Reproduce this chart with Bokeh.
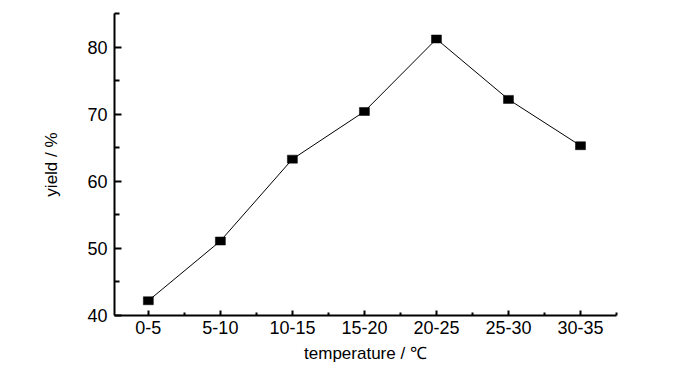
from bokeh.plotting import figure
from bokeh.models import Range1d, FixedTicker
from bokeh.embed import file_html
from bokeh.resources import INLINE

categories = ["0-5", "5-10", "10-15", "15-20", "20-25", "25-30", "30-35"]
yield_pct = [42.2, 51.1, 63.3, 70.4, 81.2, 72.2, 65.3]
y_ticks = [40, 50, 60, 70, 80]
y_minor = [45, 55, 65, 75, 85]

FONT = "Liberation Sans"

xs = list(range(len(categories)))

p = figure(width=684, height=365, output_backend="svg", toolbar_location=None,
           x_range=Range1d(-0.47, 6.5), y_range=Range1d(40, 85),
           min_border_left=114, min_border_right=68, min_border_top=13, min_border_bottom=50)
p.outline_line_color = None
p.xgrid.visible = False
p.ygrid.visible = False
p.background_fill_color = "white"
p.border_fill_color = "white"

p.line(xs, yield_pct, line_color="black", line_width=1)
p.rect(xs, yield_pct, width=10, height=8, width_units="screen", height_units="screen",
       fill_color="black", line_color="black", line_width=0.5)

xa = p.xaxis[0]
xa.ticker = FixedTicker(ticks=xs, minor_ticks=[x + 0.5 for x in xs])
xa.major_label_overrides = {i: c for i, c in enumerate(categories)}
xa.axis_label = "temperature / ℃"

ya = p.yaxis[0]
ya.ticker = FixedTicker(ticks=y_ticks, minor_ticks=y_minor)
ya.axis_label = "yield / %"

for ax in (xa, ya):
    ax.axis_line_color = "black"
    ax.axis_line_width = 2
    ax.major_tick_line_color = "black"
    ax.minor_tick_line_color = "black"
    ax.major_tick_line_width = 2
    ax.minor_tick_line_width = 2
    ax.major_tick_out = 0
    ax.minor_tick_out = 0
    ax.major_label_text_font = FONT
    ax.major_label_text_font_size = "18px"
    ax.major_label_text_color = "black"
    ax.axis_label_text_font = FONT
    ax.axis_label_text_font_size = "17px"
    ax.axis_label_text_font_style = "normal"
    ax.axis_label_text_color = "black"

xa.major_tick_in = 5
xa.minor_tick_in = 3
ya.major_tick_in = 7
ya.minor_tick_in = 5
xa.major_label_standoff = 5
xa.axis_label_standoff = 7
ya.major_label_standoff = 7
ya.axis_label_standoff = 23

open("out.html", "w").write(file_html(p, INLINE))
